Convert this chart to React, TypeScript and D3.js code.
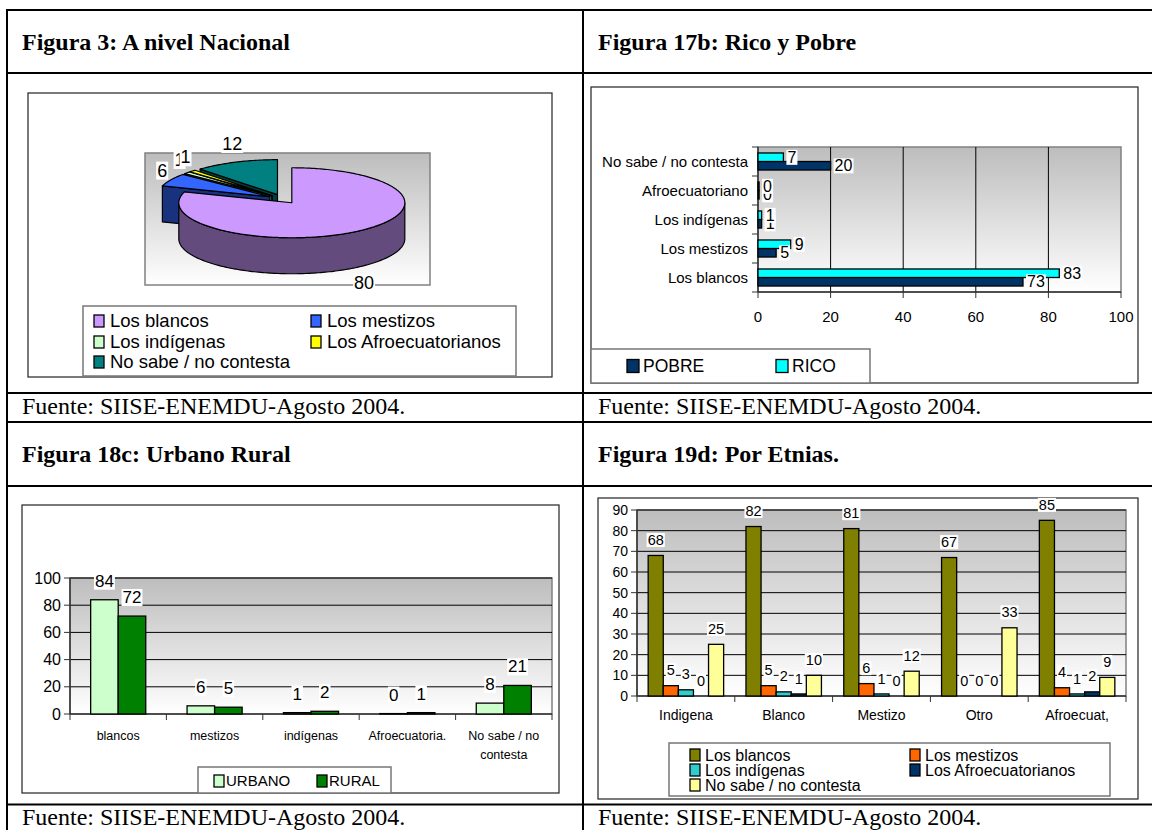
import React, { useEffect, useRef } from "react";
import * as d3 from "d3";

// Figura 3: A nivel Nacional (pie)
const pieCategories = ["Los blancos", "Los mestizos", "Los indígenas", "Los Afroecuatorianos", "No sabe / no contesta"];
const pieValues = [80, 6, 1, 1, 12];
const pieColors = ["#cc99ff", "#3366ff", "#ccffcc", "#ffff00", "#008080"];

// Figura 17b: Rico y Pobre
const wealthCategories = ["Los blancos", "Los mestizos", "Los indígenas", "Afroecuatoriano", "No sabe / no contesta"];
const pobreValues = [73, 5, 1, 0.3, 20];
const ricoValues = [83, 9, 1, 0.3, 7];
const wealthTicks = [0, 20, 40, 60, 80, 100];

// Figura 18c: Urbano Rural
const areaCategories = ["blancos", "mestizos", "indígenas", "Afroecuatoria.", "No sabe / no contesta"];
const urbanoValues = [84, 6, 1, 0.3, 8];
const ruralValues = [72, 5, 2, 1, 21];
const areaTicks = [0, 20, 40, 60, 80, 100];

// Figura 19d: Por Etnias
const ethnicCategories = ["Indigena", "Blanco", "Mestizo", "Otro", "Afroecuat,"];
const blancosValues = [68, 82, 81, 67, 85];
const mestizosValues = [5, 5, 6, 0, 4];
const indigenasValues = [3, 2, 1, 0, 1];
const afroValues = [0, 1, 0, 0, 2];
const noSabeValues = [25, 10, 12, 33, 9];
const ethnicTicks = [0, 10, 20, 30, 40, 50, 60, 70, 80, 90];

const SANS = "'Liberation Sans', Arial, Helvetica, sans-serif";
const SERIF = "'Liberation Serif', 'Times New Roman', Times, serif";
const fmt = d3.format(".0f");

function boxLabel(g: any, x: number, y: number, txt: string, size: number, anchor = "middle") {
  const t = g
    .append("text")
    .attr("x", x)
    .attr("y", y)
    .attr("dy", "0.35em")
    .attr("text-anchor", anchor)
    .attr("font-size", size)
    .text(txt);
  const b = t.node().getBBox();
  g.insert("rect", () => t.node())
    .attr("x", b.x - 1)
    .attr("y", b.y + 1)
    .attr("width", b.width + 2)
    .attr("height", b.height - 2)
    .attr("fill", "#fff");
}

function legend(g: any, box: number[], items: any[], colX: number[], rowY: number[], size: number, dx: number, sw: number[]) {
  g.append("rect")
    .attr("x", box[0])
    .attr("y", box[1])
    .attr("width", box[2])
    .attr("height", box[3])
    .attr("fill", "#fff")
    .attr("stroke", "#777")
    .attr("stroke-width", 1.5);
  items.forEach((it, i) => {
    let x = colX[i % colX.length];
    let y = rowY[Math.floor(i / colX.length)];
    g.append("rect")
      .attr("x", x)
      .attr("y", y - sw[1] / 2)
      .attr("width", sw[0])
      .attr("height", sw[1])
      .attr("fill", it.color)
      .attr("stroke", "#000")
      .attr("stroke-width", 1.3);
    g.append("text")
      .attr("x", x + dx)
      .attr("y", y)
      .attr("dy", "0.35em")
      .attr("font-size", size)
      .text(it.name);
  });
}

function chartBox(g: any, x: number, y: number, w: number, h: number) {
  g.append("rect")
    .attr("x", x)
    .attr("y", y)
    .attr("width", w)
    .attr("height", h)
    .attr("fill", "#fff")
    .attr("stroke", "#222")
    .attr("stroke-width", 1.2);
}

function plotArea(g: any, x0: number, y0: number, x1: number, y1: number) {
  g.append("rect")
    .attr("x", x0)
    .attr("y", y0)
    .attr("width", x1 - x0)
    .attr("height", y1 - y0)
    .attr("fill", "url(#plotGrad)")
    .attr("stroke", "#808080")
    .attr("stroke-width", 1.5);
}

export default function App() {
  const ref = useRef<SVGSVGElement>(null);

  useEffect(() => {
    draw();
  }, []);

  let draw = () => {
    let svg = d3.select(ref.current);
    svg.selectAll("*").remove();

    let grad = svg
      .append("defs")
      .append("linearGradient")
      .attr("id", "plotGrad")
      .attr("x1", 0)
      .attr("y1", 0)
      .attr("x2", 0)
      .attr("y2", 1);
    grad.append("stop").attr("offset", "0%").attr("stop-color", "#bdbdbd");
    grad.append("stop").attr("offset", "100%").attr("stop-color", "#ffffff");

    // ---------- pie (Figura 3)
    let pg = svg.append("g");
    chartBox(pg, 28, 93, 524, 284);
    plotArea(pg, 145, 153, 430, 285);

    let cx = 283, cy = 199, rx = 113, ry = 35, depth = 36, explode = 15;
    let arcs = d3.pie<number>().sort(null)(pieValues);
    let slices = arcs.map((d, i) => {
      let mid = (d.startAngle + d.endAngle) / 2;
      return { a0: d.startAngle, a1: d.endAngle, i, mid, ox: explode * Math.sin(mid), oy: (-explode * Math.cos(mid) * ry) / rx };
    });
    let pt = (s: any, a: number, dy: number): [number, number] => [
      cx + s.ox + rx * Math.sin(a),
      cy + s.oy - ry * Math.cos(a) + dy,
    ];
    let arcPts = (s: any, a0: number, a1: number, dy: number) => {
      let n = Math.max(2, Math.ceil((a1 - a0) / 0.02));
      return d3.range(n + 1).map((k) => pt(s, a0 + ((a1 - a0) * k) / n, dy));
    };
    let line = d3.line();
    let face = (pts: [number, number][], fill: string) =>
      pg
        .append("path")
        .attr("d", line(pts) + "Z")
        .attr("fill", fill)
        .attr("stroke", "#000")
        .attr("stroke-width", 1.2)
        .attr("stroke-linejoin", "round");

    let order = [...slices].sort((a, b) => -Math.cos(a.mid) + Math.cos(b.mid));
    order.forEach((s) => {
      let side = d3.rgb(pieColors[s.i]).darker(2).toString();
      let c: [number, number] = [cx + s.ox, cy + s.oy];
      let walls: [number, boolean][] = [
        [s.a0, Math.sin(s.a0) < -1e-9],
        [s.a1, Math.sin(s.a1) > 1e-9],
      ];
      walls.forEach(([a, vis]) => {
        if (!vis) return;
        let p = pt(s, a, 0);
        face([c, p, [p[0], p[1] + depth], [c[0], c[1] + depth]], side);
      });
      let a0 = Math.max(s.a0, Math.PI / 2);
      let a1 = Math.min(s.a1, (3 * Math.PI) / 2);
      if (a1 > a0) {
        face(arcPts(s, a0, a1, 0).concat(arcPts(s, a0, a1, depth).reverse()), side);
      }
    });
    slices.forEach((s) => {
      face([[cx + s.ox, cy + s.oy] as [number, number]].concat(arcPts(s, s.a0, s.a1, 0)), pieColors[s.i]);
    });
    slices.forEach((s) => {
      let lx = cx + rx * 1.22 * Math.sin(s.mid);
      let ly = cy - ry * 1.7 * Math.cos(s.mid) + (Math.cos(s.mid) < 0 ? depth : 0);
      boxLabel(pg, lx, ly, fmt(pieValues[s.i]), 18);
    });
    legend(
      pg,
      [83, 306, 433, 70],
      pieCategories.map((name, i) => ({ name, color: pieColors[i] })),
      [94, 311],
      [321, 342, 362],
      18.5,
      16,
      [10, 12]
    );

    // ---------- horizontal bars (Figura 17b)
    let hg = svg.append("g");
    chartBox(hg, 591, 87, 547, 296);
    let hx = d3.scaleLinear().domain([0, 100]).range([758, 1121]);
    let hy = d3.scaleBand().domain(wealthCategories).range([292, 147]);
    let hy1 = d3.scaleBand().domain(["RICO", "POBRE"]).range([0, hy.bandwidth()]).paddingOuter(0.7);
    plotArea(hg, 758, 147, 1121, 292);
    wealthTicks.slice(1, -1).forEach((t) => {
      hg.append("line").attr("x1", hx(t)).attr("x2", hx(t)).attr("y1", 147).attr("y2", 292).attr("stroke", "#000").attr("stroke-width", 1);
    });
    hg.append("line").attr("x1", 758).attr("x2", 758).attr("y1", 147).attr("y2", 292).attr("stroke", "#333").attr("stroke-width", 1.5);
    hg.append("line").attr("x1", 758).attr("x2", 1121).attr("y1", 292).attr("y2", 292).attr("stroke", "#333").attr("stroke-width", 1.5);
    d3.range(wealthCategories.length + 1).forEach((k) => {
      let y = 147 + k * hy.step();
      hg.append("line").attr("x1", 752).attr("x2", 758).attr("y1", y).attr("y2", y).attr("stroke", "#333");
    });
    wealthTicks.forEach((t) => {
      hg.append("line").attr("x1", hx(t)).attr("x2", hx(t)).attr("y1", 292).attr("y2", 298).attr("stroke", "#333");
      hg.append("text").attr("x", hx(t)).attr("y", 317).attr("dy", "0.35em").attr("text-anchor", "middle").attr("font-size", 15).text(t);
    });
    wealthCategories.forEach((c) => {
      hg.append("text")
        .attr("x", 748)
        .attr("y", (hy(c) as number) + hy.bandwidth() / 2)
        .attr("dy", "0.35em")
        .attr("text-anchor", "end")
        .attr("font-size", 15)
        .text(c);
    });
    let wealthSeries = [
      { name: "POBRE", values: pobreValues, color: "#003366" },
      { name: "RICO", values: ricoValues, color: "#00ffff" },
    ];
    wealthSeries.forEach((s) => {
      s.values.forEach((v, i) => {
        hg.append("rect")
          .attr("x", hx(0))
          .attr("y", (hy(wealthCategories[i]) as number) + (hy1(s.name) as number))
          .attr("width", hx(v) - hx(0))
          .attr("height", hy1.bandwidth())
          .attr("fill", s.color)
          .attr("stroke", "#000")
          .attr("stroke-width", 1.3);
      });
    });
    wealthSeries.forEach((s) => {
      s.values.forEach((v, i) => {
        let y = (hy(wealthCategories[i]) as number) + (hy1(s.name) as number) + hy1.bandwidth() / 2;
        boxLabel(hg, hx(v) + 4, y, fmt(v), 16, "start");
      });
    });
    legend(hg, [591, 349, 279, 34], wealthSeries, [627, 776], [366], 17.5, 16, [12, 13]);

    // ---------- grouped columns
    let columns = (o: any) => {
      let g = svg.append("g");
      chartBox(g, o.box[0], o.box[1], o.box[2], o.box[3]);
      let x = d3.scaleBand().domain(o.categories).range([o.left, o.right]);
      let x1 = d3
        .scaleBand()
        .domain(o.series.map((s: any) => s.name))
        .range([0, x.bandwidth()])
        .paddingOuter(o.outer);
      let y = d3.scaleLinear().domain([0, o.max]).range([o.bottom, o.top]);
      plotArea(g, o.left, o.top, o.right, o.bottom);
      o.ticks.slice(1).forEach((t: number) => {
        g.append("line").attr("x1", o.left).attr("x2", o.right).attr("y1", y(t)).attr("y2", y(t)).attr("stroke", "#000").attr("stroke-width", 1);
      });
      g.append("line").attr("x1", o.left).attr("x2", o.left).attr("y1", o.top).attr("y2", o.bottom).attr("stroke", "#333").attr("stroke-width", 1.5);
      g.append("line").attr("x1", o.left).attr("x2", o.right).attr("y1", o.bottom).attr("y2", o.bottom).attr("stroke", "#333").attr("stroke-width", 1.5);
      o.ticks.forEach((t: number) => {
        g.append("line").attr("x1", o.left - 6).attr("x2", o.left).attr("y1", y(t)).attr("y2", y(t)).attr("stroke", "#333");
        g.append("text")
          .attr("x", o.left - 9)
          .attr("y", y(t))
          .attr("dy", "0.35em")
          .attr("text-anchor", "end")
          .attr("font-size", o.tickSize)
          .text(t);
      });
      d3.range(o.categories.length + 1).forEach((k) => {
        let xx = o.left + k * x.step();
        g.append("line").attr("x1", xx).attr("x2", xx).attr("y1", o.bottom).attr("y2", o.bottom + 6).attr("stroke", "#333");
      });
      o.series.forEach((s: any) => {
        s.values.forEach((v: number, i: number) => {
          g.append("rect")
            .attr("x", (x(o.categories[i]) as number) + (x1(s.name) as number))
            .attr("y", y(v))
            .attr("width", x1.bandwidth())
            .attr("height", o.bottom - y(v))
            .attr("fill", s.color)
            .attr("stroke", "#000")
            .attr("stroke-width", 1.3);
        });
      });
      o.series.forEach((s: any) => {
        s.values.forEach((v: number, i: number) => {
          let cxx = (x(o.categories[i]) as number) + (x1(s.name) as number) + x1.bandwidth() / 2;
          boxLabel(g, cxx, y(v) - o.labelGap, fmt(v), o.labelSize);
        });
      });
      o.categories.forEach((c: string) => {
        let t = g
          .append("text")
          .attr("x", (x(c) as number) + x.bandwidth() / 2)
          .attr("y", o.catY)
          .attr("text-anchor", "middle")
          .attr("font-size", o.catSize);
        let words = c.split(" ");
        let lines: string[] = [];
        let cur = "";
        let probe = g.append("text").attr("font-size", o.catSize);
        words.forEach((w) => {
          let test = cur ? cur + " " + w : w;
          probe.text(test);
          if ((probe.node() as SVGTextElement).getComputedTextLength() > o.wrap && cur) {
            lines.push(cur);
            cur = w;
          } else cur = test;
        });
        lines.push(cur);
        probe.remove();
        lines.forEach((l, k) => {
          t.append("tspan")
            .attr("x", (x(c) as number) + x.bandwidth() / 2)
            .attr("y", o.catY + k * o.catLine)
            .attr("dy", "0.35em")
            .text(l);
        });
      });
      legend(g, o.legendBox, o.series, o.legendX, o.legendY, o.legendSize, o.legendDx, o.legendSw);
    };

    columns({
      box: [22, 505, 537, 288],
      left: 70,
      right: 552,
      top: 578,
      bottom: 714,
      max: 100,
      ticks: areaTicks,
      tickSize: 16,
      categories: areaCategories,
      series: [
        { name: "URBANO", values: urbanoValues, color: "#ccffcc" },
        { name: "RURAL", values: ruralValues, color: "#008000" },
      ],
      outer: 0.75,
      labelGap: 19,
      labelSize: 17,
      catY: 736,
      catSize: 12.5,
      catLine: 19,
      wrap: 85,
      legendBox: [198, 767, 193, 26],
      legendX: [214, 317],
      legendY: [781],
      legendSize: 15,
      legendDx: 12,
      legendSw: [10, 12],
    });

    columns({
      box: [598, 498, 540, 301],
      left: 637,
      right: 1126,
      top: 510,
      bottom: 696,
      max: 90,
      ticks: ethnicTicks,
      tickSize: 14,
      categories: ethnicCategories,
      series: [
        { name: "Los blancos", values: blancosValues, color: "#808000" },
        { name: "Los mestizos", values: mestizosValues, color: "#ff6600" },
        { name: "Los indígenas", values: indigenasValues, color: "#33cccc" },
        { name: "Los Afroecuatorianos", values: afroValues, color: "#003366" },
        { name: "No sabe / no contesta", values: noSabeValues, color: "#ffff99" },
      ],
      outer: 0.74,
      labelGap: 15.5,
      labelSize: 14.5,
      catY: 715,
      catSize: 14,
      catLine: 16,
      wrap: 200,
      legendBox: [669, 743, 441, 53],
      legendX: [690, 910],
      legendY: [755, 770, 785],
      legendSize: 16,
      legendDx: 15,
      legendSw: [10, 12],
    });

    // ---------- table frame and captions
    let tg = svg.append("g");
    [10, 73, 393, 422, 486, 804.5].forEach((y) => {
      tg.append("line").attr("x1", 6).attr("x2", 1152).attr("y1", y).attr("y2", y).attr("stroke", "#000").attr("stroke-width", 2);
    });
    [7, 583].forEach((x) => {
      tg.append("line").attr("x1", x).attr("x2", x).attr("y1", 9).attr("y2", 830).attr("stroke", "#000").attr("stroke-width", 2);
    });
    let titles = [
      { x: 22, y: 50, t: "Figura 3: A nivel Nacional" },
      { x: 598, y: 50, t: "Figura 17b: Rico y Pobre" },
      { x: 22, y: 462, t: "Figura 18c: Urbano Rural" },
      { x: 598, y: 462, t: "Figura 19d: Por Etnias." },
    ];
    titles.forEach((d) => {
      tg.append("text").attr("x", d.x).attr("y", d.y).attr("font-family", SERIF).attr("font-weight", "bold").attr("font-size", 24).text(d.t);
    });
    [
      [22, 414],
      [598, 414],
      [22, 825],
      [598, 825],
    ].forEach(([x, y]) => {
      tg.append("text").attr("x", x).attr("y", y).attr("font-family", SERIF).attr("font-size", 24).text("Fuente: SIISE-ENEMDU-Agosto 2004.");
    });
  };

  return (
    <svg
      ref={ref}
      width={1152}
      height={830}
      style={{ position: "absolute", left: 0, top: 0, background: "#fff", fontFamily: SANS }}
    ></svg>
  );
}
